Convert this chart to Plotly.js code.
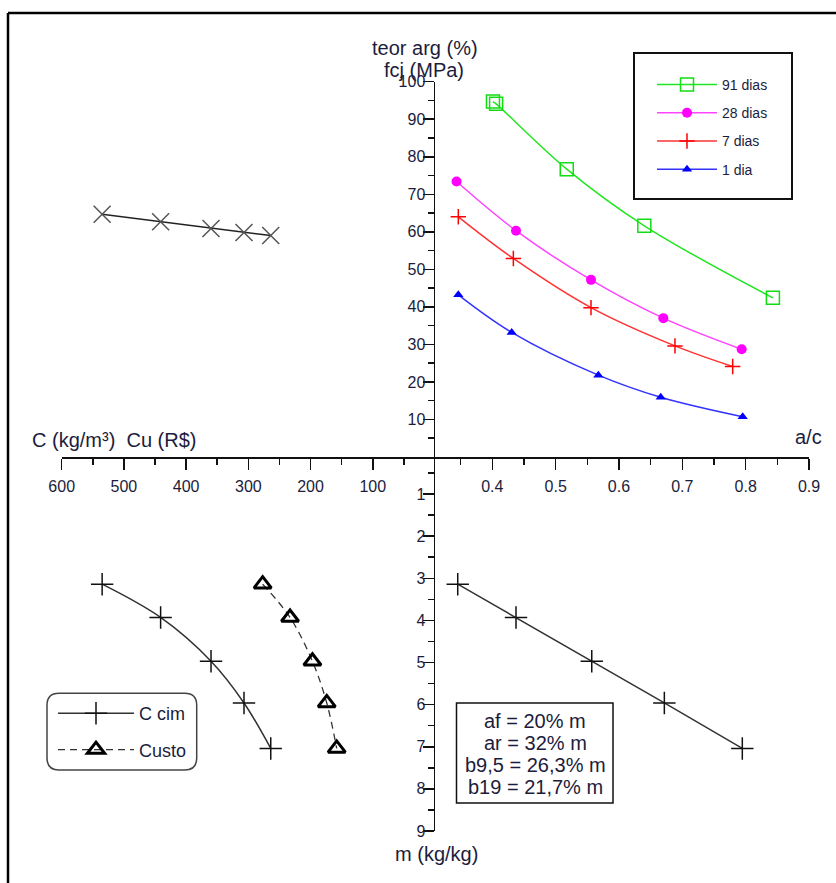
<!DOCTYPE html>
<html>
<head>
<meta charset="utf-8">
<script src="https://cdn.plot.ly/plotly-3.0.1.min.js"></script>
<style>html,body{margin:0;padding:0;background:#fff;}#chart{width:836px;height:883px;}</style>
</head>
<body>
<div id="chart"></div>
<script>
// ---- Data ----
// Quadrant I : a/c vs fcj (MPa)
var ac91 = [0.401, 0.406, 0.5175, 0.640, 0.843];
var fcj91 = [94.7, 94.1, 76.7, 61.6, 42.4];
var ac28 = [0.3435, 0.4374, 0.5558, 0.670, 0.7937];
var fcj28 = [73.4, 60.3, 47.2, 37.0, 28.7];
var ac7 = [0.3463, 0.4332, 0.5558, 0.6884, 0.7795];
var fcj7 = [64.0, 52.9, 39.8, 29.6, 24.1];
var ac1 = [0.3463, 0.4306, 0.5674, 0.6659, 0.7953];
var fcj1 = [43.2, 33.2, 21.8, 15.9, 10.7];
// Quadrant II : C (kg/m3) vs teor arg (%)
var cCim = [535, 441, 360, 307, 264];
var teorArg = [64.7, 62.7, 60.9, 59.8, 59.0];
// Quadrant III : C / Cu vs m
var mVals = [3.14, 3.93, 4.97, 5.96, 7.04];
var custo = [277, 233, 197, 174, 158];
// Quadrant IV : a/c vs m
var acM = [0.3454, 0.4374, 0.557, 0.6716, 0.7947];
// Tick values / labels
var acTicks = [0.4, 0.5, 0.6, 0.7, 0.8, 0.9];
var acTickText = ['0.4', '0.5', '0.6', '0.7', '0.8', '0.9'];
var acMinor = [0.35, 0.45, 0.55, 0.65, 0.75, 0.85];
var cTicks = [100, 200, 300, 400, 500, 600];
var cMinor = [50, 150, 250, 350, 450, 550];
var fcjTicks = [10, 20, 30, 40, 50, 60, 70, 80, 90, 100];
var fcjMinor = [5, 15, 25, 35, 45, 55, 65, 75, 85, 95];
var mTicks = [1, 2, 3, 4, 5, 6, 7, 8, 9];
var mMinor = [0.5, 1.5, 2.5, 3.5, 4.5, 5.5, 6.5, 7.5, 8.5];
var seriesNames = ['91 dias', '28 dias', '7 dias', '1 dia'];
var boxLines = ['af = 20% m', 'ar = 32% m', 'b9,5 = 26,3% m', 'b19 = 21,7% m'];

// ---- Layout helpers ----
var W = 836, H = 883;
function px(x) { return x / W; }
function py(y) { return 1 - y / H; }
var FONT = 'Liberation Sans, Arial, sans-serif';
var TXT = '#1c1c3c';

var traces = [
  {x: ac91, y: fcj91, xaxis: 'x', yaxis: 'y', name: seriesNames[0], legend: 'legend', legendgroup: 'g1',
   mode: 'lines+markers', line: {color: '#22e622', width: 1.5, shape: 'spline'},
   marker: {symbol: 'square-open', size: 13, color: '#11dd11', line: {width: 1.5}}},
  {x: ac28, y: fcj28, xaxis: 'x', yaxis: 'y', name: seriesNames[1], legend: 'legend', legendgroup: 'g2',
   mode: 'lines+markers', line: {color: '#ff44ff', width: 1.5, shape: 'spline'},
   marker: {symbol: 'circle', size: 10, color: '#ff00ff'}},
  {x: ac7, y: fcj7, xaxis: 'x', yaxis: 'y', name: seriesNames[2], legend: 'legend', legendgroup: 'g3',
   mode: 'lines+markers', line: {color: '#ff3333', width: 1.5, shape: 'spline'},
   marker: {symbol: 'cross-thin-open', size: 11, color: '#ff0000', line: {width: 1.5}}},
  {x: ac1, y: fcj1, xaxis: 'x', yaxis: 'y', name: seriesNames[3], legend: 'legend', legendgroup: 'g4',
   mode: 'lines+markers', line: {color: '#3333ff', width: 1.5, shape: 'spline'},
   marker: {symbol: 'triangle-up', size: 9, color: '#0000ff'}},
  {x: cCim, y: teorArg, xaxis: 'x2', yaxis: 'y', showlegend: false,
   mode: 'lines+markers', line: {color: '#222', width: 1.5},
   marker: {symbol: 'x-thin-open', size: 17, color: '#555', line: {width: 1.5}}},
  {x: cCim, y: mVals, xaxis: 'x2', yaxis: 'y2', name: 'C cim', legend: 'legend2', legendgroup: 'h1',
   mode: 'lines+markers', line: {color: '#333', width: 1.5, shape: 'spline'},
   marker: {symbol: 'cross-thin-open', size: 16, color: '#111', line: {width: 1.5}}},
  {x: custo, y: mVals, xaxis: 'x2', yaxis: 'y2', name: 'Custo', legend: 'legend2', legendgroup: 'h2',
   mode: 'lines+markers', line: {color: '#333', width: 1.3, dash: '7px,5px', shape: 'spline'},
   marker: {symbol: 'triangle-up-open', size: 15, color: '#000', line: {width: 3}}},
  {x: acM, y: mVals, xaxis: 'x', yaxis: 'y2', showlegend: false,
   mode: 'lines+markers', line: {color: '#333', width: 1.5},
   marker: {symbol: 'cross-thin-open', size: 16, color: '#111', line: {width: 1.5}}}
];

var axisCommon = {
  showgrid: false, zeroline: false, showline: true, linecolor: '#111', linewidth: 1.5,
  ticks: 'outside', ticklen: 11, tickwidth: 1.5, tickcolor: '#111',
  tickfont: {family: FONT, size: 16, color: TXT}, tickmode: 'array', fixedrange: true
};
function ax(extra) { var o = {}; for (var k in axisCommon) o[k] = axisCommon[k]; for (var k2 in extra) o[k2] = extra[k2]; return o; }
var minorCommon = {ticklen: 6, tickwidth: 1.5, tickcolor: '#111', ticks: 'outside'};
function mn(vals) { var o = {tickvals: vals}; for (var k in minorCommon) o[k] = minorCommon[k]; return o; }

var x0 = 435, y0 = 457;
var layout = {
  width: W, height: H, margin: {l: 0, r: 0, t: 0, b: 0}, paper_bgcolor: '#fff', plot_bgcolor: 'rgba(0,0,0,0)',
  hovermode: false, font: {family: FONT, color: TXT},
  xaxis: ax({domain: [px(x0), px(809)], range: [0.3095, 0.9], anchor: 'y', tickvals: acTicks, ticktext: acTickText,
    minor: mn(acMinor), ticklabelstandoff: 3}),
  xaxis2: ax({domain: [px(61.7), px(x0)], range: [600, 0], anchor: 'y', tickvals: cTicks,
    minor: mn(cMinor), ticklabelstandoff: 3}),
  yaxis: ax({domain: [py(y0), py(81.7)], range: [0, 100], anchor: 'x', tickvals: fcjTicks,
    minor: mn(fcjMinor), ticklabelstandoff: -6}),
  yaxis2: ax({domain: [py(831), py(y0)], range: [9, 0.12], anchor: 'x', tickvals: mTicks,
    minor: mn(mMinor), ticklabelstandoff: -6}),
  legend: {x: px(652), y: py(69), xanchor: 'left', yanchor: 'top', bgcolor: 'rgba(0,0,0,0)', borderwidth: 0,
    font: {family: FONT, size: 14, color: TXT}, tracegroupgap: 7, itemwidth: 60},
  legend2: {x: px(53), y: py(695), xanchor: 'left', yanchor: 'top', bgcolor: 'rgba(0,0,0,0)', borderwidth: 0,
    font: {family: FONT, size: 18, color: TXT}, tracegroupgap: 10, itemwidth: 76},
  shapes: [
    {type: 'line', xref: 'paper', yref: 'paper', x0: px(8), x1: 1, y0: py(13), y1: py(13), line: {color: '#000', width: 2.5}},
    {type: 'line', xref: 'paper', yref: 'paper', x0: px(8), x1: px(8), y0: py(13), y1: 0, line: {color: '#000', width: 2.5}},
    {type: 'rect', xref: 'paper', yref: 'paper', x0: px(634), x1: px(792), y0: py(199), y1: py(53), line: {color: '#111', width: 2}},
    {type: 'rect', xref: 'paper', yref: 'paper', x0: px(456.5), x1: px(613), y0: py(803), y1: py(703), line: {color: '#111', width: 1.5}}
  ],
  annotations: [
    {xref: 'paper', yref: 'paper', x: px(424.5), y: py(48), text: 'teor arg (%)', showarrow: false, xanchor: 'center', yanchor: 'middle', font: {size: 20, family: FONT, color: TXT}},
    {xref: 'paper', yref: 'paper', x: px(424), y: py(70), text: 'fcj (MPa)', showarrow: false, xanchor: 'center', yanchor: 'middle', font: {size: 20, family: FONT, color: TXT}},
    {xref: 'paper', yref: 'paper', x: px(808), y: py(437), text: 'a/c', showarrow: false, xanchor: 'center', yanchor: 'middle', font: {size: 20, family: FONT, color: TXT}},
    {xref: 'paper', yref: 'paper', x: px(114), y: py(440), text: 'C (kg/m³)  Cu (R$)', showarrow: false, xanchor: 'center', yanchor: 'middle', font: {size: 20, family: FONT, color: TXT}},
    {xref: 'paper', yref: 'paper', x: px(436.5), y: py(854), text: 'm (kg/kg)', showarrow: false, xanchor: 'center', yanchor: 'middle', font: {size: 20, family: FONT, color: TXT}}
  ]
};
// text lines of the parameter box
var boxY = [721, 743, 765, 787];
boxLines.forEach(function (t, i) {
  layout.annotations.push({xref: 'paper', yref: 'paper', x: px(535), y: py(boxY[i]), text: t, showarrow: false,
    xanchor: 'center', yanchor: 'middle', font: {size: 20, family: FONT, color: TXT}});
});
// rounded box for second legend
(function () {
  var a = px(47), b = px(196.7), lo = py(770), hi = py(693.3), rx = px(12), ry = 12 / H;
  var p = 'M' + (a + rx) + ',' + hi + ' L' + (b - rx) + ',' + hi + ' Q' + b + ',' + hi + ' ' + b + ',' + (hi - ry) +
    ' L' + b + ',' + (lo + ry) + ' Q' + b + ',' + lo + ' ' + (b - rx) + ',' + lo + ' L' + (a + rx) + ',' + lo +
    ' Q' + a + ',' + lo + ' ' + a + ',' + (lo + ry) + ' L' + a + ',' + (hi - ry) + ' Q' + a + ',' + hi + ' ' + (a + rx) + ',' + hi + ' Z';
  layout.shapes.push({type: 'path', xref: 'paper', yref: 'paper', path: p, line: {color: '#444', width: 1.5}});
})();

Plotly.newPlot('chart', traces, layout, {displayModeBar: false, staticPlot: true});
</script>
</body>
</html>
